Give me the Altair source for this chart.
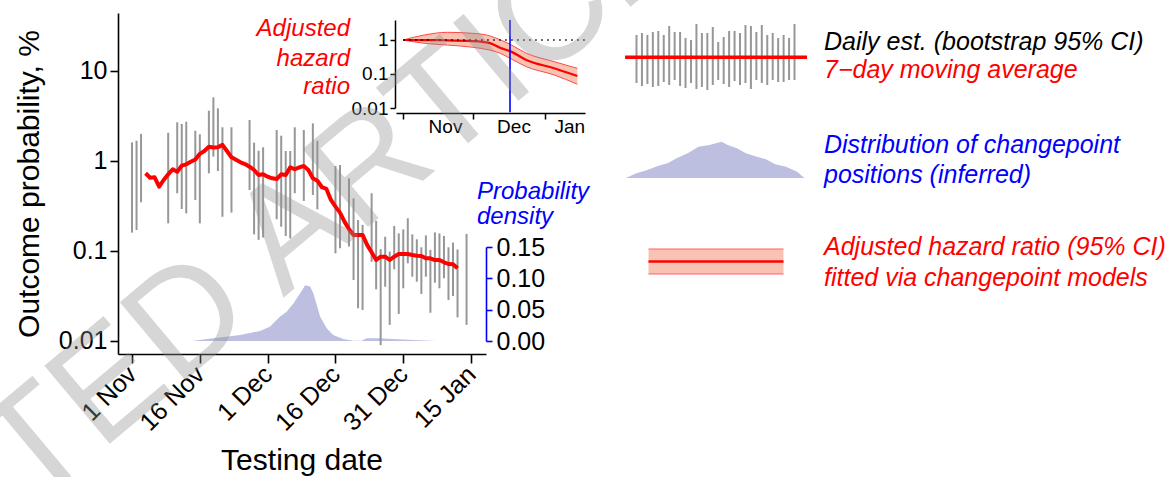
import altair as alt
import pandas as pd
from datetime import datetime, timedelta

W, H = 1169, 477
FONT = "Liberation Sans"
START = datetime(2020, 11, 1)

# ---------------- data (days counted from 1 Nov 2020) ----------------
bar_day = [0, 1, 2, 8, 10, 11, 12, 14, 15, 17,
           18, 19, 20, 22, 26, 27, 28, 29, 32, 33,
           34, 35, 36, 38, 40, 41, 45, 46, 48, 49,
           50, 51, 53, 54, 55, 56, 57, 58, 59, 60,
           61, 62, 63, 64, 65, 66, 67, 68, 69, 70,
           71, 72, 74]
bar_hi = [1.61, 1.68, 2.0, 2.06, 2.69, 2.58, 2.73, 2.17, 1.98, 3.62,
          5.10, 3.85, 2.37, 2.37, 2.85, 1.60, 1.30, 1.42, 2.21, 1.91,
          1.29, 1.29, 2.37, 2.21, 2.62, 1.68, 0.880, 0.903, 0.642, 0.385,
          0.221, 0.195, 0.438, 0.216, 0.105, 0.144, 0.0983, 0.190, 0.157, 0.174,
          0.231, 0.153, 0.135, 0.110, 0.149, 0.103, 0.161, 0.157, 0.147, 0.110,
          0.124, 0.104, 0.155]
bar_lo = [0.160, 0.171, 0.348, 0.203, 0.438, 0.293, 0.262, 0.369, 0.203, 0.730,
          1.12, 0.774, 0.240, 0.267, 0.476, 0.153, 0.133, 0.141, 0.225, 0.186,
          0.147, 0.138, 0.438, 0.360, 0.419, 0.291, 0.0943, 0.107, 0.112, 0.0476,
          0.0231, 0.0221, 0.0760, 0.0375, 0.0090, 0.0401, 0.0151, 0.0626, 0.0200, 0.0385,
          0.0730, 0.0518, 0.0456, 0.0333, 0.0518, 0.0206, 0.0445, 0.0385, 0.0498, 0.0285,
          0.0316, 0.0183, 0.0151]

ma_day = list(range(3, 73))
ma_val = [0.730, 0.652, 0.659, 0.518, 0.615, 0.711, 0.809, 0.760, 0.887, 0.919,
          0.982, 1.04, 1.20, 1.29, 1.44, 1.41, 1.42, 1.51, 1.29, 1.10,
          1.03, 0.967, 0.926, 0.865, 0.794, 0.699, 0.711, 0.669, 0.642, 0.631,
          0.711, 0.699, 0.851, 0.809, 0.851, 0.880, 0.794, 0.642, 0.604, 0.511,
          0.489, 0.369, 0.311, 0.267, 0.212, 0.174, 0.151, 0.151, 0.151, 0.117,
          0.0968, 0.0794, 0.0865, 0.0865, 0.0794, 0.0865, 0.0926, 0.0926, 0.0926, 0.0903,
          0.0887, 0.0880, 0.0830, 0.0830, 0.0794, 0.0794, 0.0749, 0.0717, 0.0712, 0.0643]

dens_day = [13.2, 18.0, 23.9, 28.3, 30.5, 32.7, 34.2, 35.7, 37.2, 38.3, 39.4, 40.1,
            40.9, 41.6, 43.1, 44.5, 46.7, 49.0, 50.8, 51.9, 54.9, 58.6, 62.2, 67.4]
dens_val = [0.0, 0.0043, 0.0096, 0.016, 0.0228, 0.0388, 0.0468, 0.060, 0.076, 0.089, 0.087, 0.076,
            0.057, 0.039, 0.020, 0.0096, 0.0032, 0.0005, 0.0005, 0.0043, 0.0043, 0.0027, 0.0016, 0.0]

hr_day = [0, 9, 19, 30, 37, 42, 46, 53, 65, 75]
hr_mid = [1.0, 0.99, 0.98, 0.93, 0.82, 0.58, 0.47, 0.26, 0.147, 0.087]
hr_hi = [1.0, 1.40, 1.68, 1.57, 1.34, 1.0, 0.75, 0.41, 0.23, 0.147]
hr_lo = [1.0, 0.80, 0.71, 0.61, 0.51, 0.40, 0.29, 0.164, 0.094, 0.050]
cp_day = 46

main_ticks = [0, 15, 30, 45, 60, 75]
inset_ticks = [0, 30, 61]
inset_month_pos = [18, 47.5, 71.5]

# legend glyph shapes
leg_bar_hi = [65, 67, 65, 68, 69, 65, 74, 68, 68, 62, 60, 76, 67, 67, 73,
              58, 63, 69, 69, 67, 75, 74, 68, 75, 65, 67, 62, 65, 62, 76]
leg_bar_lo = [17, 14, 16, 13, 14, 18, 15, 20, 14, 12, 17, 11, 13, 10, 15,
              20, 16, 13, 19, 15, 17, 11, 20, 17, 15, 20, 18, 18, 20, 20]
leg_m_x = [0.3, 6.4, 12.4, 18.6, 23.6, 28.7, 34.8, 40.8, 46.9, 53.6, 57.1, 62.2,
           67.2, 73.3, 78.3, 83.4, 89.5, 95.6, 99.7]
leg_m_h = [0, 4.7, 8, 12.3, 14.7, 19.7, 24.7, 31.3, 33, 36.3, 33, 29.7,
           24.7, 21.3, 18.7, 13.7, 11.3, 6.3, 0]


def iso(day):
    return (START + timedelta(days=day)).strftime("%Y-%m-%dT%H:%M:%SZ")


def dt(day):
    t = START + timedelta(days=day)
    return alt.DateTime(year=t.year, month=t.month, date=t.day,
                        hours=t.hour, minutes=t.minute, utc=True)


# ---------------- scales ----------------
X_MAIN = alt.Scale(type="utc", domain=[dt(-3.1), dt(78.3)], range=[118, 486], nice=False)
Y_MAIN = alt.Scale(type="log", domain=[0.00717, 44.1], range=[354, 13], nice=False)
Y_DENS = alt.Scale(domain=[0, 0.15], range=[341, 247], nice=False, zero=False)
X_INS = alt.Scale(type="utc", domain=[dt(-3.1), dt(78.3)], range=[396, 585], nice=False)
Y_INS = alt.Scale(type="log", domain=[0.01, 3.87], range=[108, 20], nice=False)


def ax(**kw):
    base = dict(grid=False, title=None, labelFont=FONT, labelColor="black",
                domainColor="black", tickColor="black", labelOverlap=False,
                labelFlush=False)
    base.update(kw)
    return alt.Axis(**base)


bars_df = pd.DataFrame({"date": [iso(d) for d in bar_day], "lo": bar_lo, "hi": bar_hi})
ma_df = pd.DataFrame({"date": [iso(d) for d in ma_day], "v": ma_val})
dens_df = pd.DataFrame({"date": [iso(d) for d in dens_day], "v": dens_val})
hr_df = pd.DataFrame({"date": [iso(d) for d in hr_day], "mid": hr_mid, "hi": hr_hi, "lo": hr_lo})
hr_long = pd.concat([
    pd.DataFrame({"date": [iso(d) for d in hr_day], "v": hr_hi, "b": "hi"}),
    pd.DataFrame({"date": [iso(d) for d in hr_day], "v": hr_lo, "b": "lo"}),
])

layers = []

# density of changepoint positions
layers.append(
    alt.Chart(dens_df).mark_area(color="#bdbfe0").encode(
        x=alt.X("date:T", scale=X_MAIN, axis=None),
        y=alt.Y("v:Q", scale=Y_DENS,
                axis=ax(orient="right", offset=486 - W, values=[0, 0.05, 0.1, 0.15],
                        format=".2f", domainColor="blue", tickColor="blue",
                        domainWidth=1.6, tickWidth=1.6, tickSize=6,
                        labelFontSize=25, labelPadding=4)),
    )
)

# daily estimates
layers.append(
    alt.Chart(bars_df).mark_rule(color="#979797", strokeWidth=2).encode(
        x=alt.X("date:T", scale=X_MAIN,
                axis=ax(orient="bottom", offset=354 - H,
                        values=[dt(d) for d in main_ticks],
                        labelExpr="utcFormat(datum.value, '%-d %b')",
                        labelAngle=315, labelAlign="right", labelBaseline="middle",
                        labelFontSize=25, labelPadding=7, tickSize=9,
                        tickWidth=1.6, domainWidth=1.6)),
        y=alt.Y("lo:Q", scale=Y_MAIN,
                axis=ax(orient="left", offset=-118, values=[0.01, 0.1, 1, 10],
                        format="~g", labelFontSize=25, labelPadding=3, tickSize=8,
                        tickWidth=1.6, domainWidth=1.6)),
        y2="hi:Q",
    )
)

# 7-day moving average
layers.append(
    alt.Chart(ma_df).mark_line(color="#ff0000", strokeWidth=4, strokeJoin="round").encode(
        x=alt.X("date:T", scale=X_MAIN, axis=None),
        y=alt.Y("v:Q", scale=Y_MAIN, axis=None),
    )
)

# inset: ribbon
layers.append(
    alt.Chart(hr_df).mark_area(color="#f8c3b2", interpolate="monotone").encode(
        x=alt.X("date:T", scale=X_INS,
                axis=ax(orient="bottom", offset=113 - H,
                        values=[dt(d) for d in inset_ticks], labels=False,
                        tickSize=6, tickWidth=1.5, domainWidth=1.5)),
        y=alt.Y("lo:Q", scale=Y_INS,
                axis=ax(orient="left", offset=-395, values=[0.01, 0.1, 1], format="~g",
                        labelFontSize=19, labelPadding=2, tickSize=5,
                        tickWidth=1.5, domainWidth=1.5)),
        y2="hi:Q",
    )
)
layers.append(
    alt.Chart(hr_long).mark_line(color="#ff4a4a", strokeWidth=1, interpolate="monotone").encode(
        x=alt.X("date:T", scale=X_INS, axis=None),
        y=alt.Y("v:Q", scale=Y_INS, axis=None),
        detail="b:N",
    )
)
layers.append(
    alt.Chart(hr_df).mark_line(color="#ff0000", strokeWidth=2.2, interpolate="monotone").encode(
        x=alt.X("date:T", scale=X_INS, axis=None),
        y=alt.Y("mid:Q", scale=Y_INS, axis=None),
    )
)
# dotted reference at HR = 1
layers.append(
    alt.Chart(pd.DataFrame({"x0": [iso(hr_day[0])], "x1": [iso(78.3)], "y": [1.0]}))
    .mark_rule(color="black", strokeWidth=1.5, strokeDash=[1.5, 4.5]).encode(
        x=alt.X("x0:T", scale=X_INS, axis=None), x2="x1:T",
        y=alt.Y("y:Q", scale=Y_INS, axis=None),
    )
)
# changepoint line + month labels
layers.append(
    alt.Chart(pd.DataFrame({"date": [iso(cp_day)], "lo": [0.0075], "hi": [3.87]}))
    .mark_rule(color="#0000ff", strokeWidth=1.6).encode(
        x=alt.X("date:T", scale=X_INS,
                axis=ax(orient="bottom", offset=113 - H,
                        values=[dt(d) for d in inset_month_pos],
                        labelExpr="utcFormat(datum.value, '%b')",
                        ticks=False, tickSize=0, domain=False,
                        labelFontSize=19, labelPadding=4)),
        y=alt.Y("lo:Q", scale=Y_INS, axis=None),
        y2="hi:Q",
    )
)

# ---------------- legend glyphs ----------------
LGX = alt.Scale(domain=[0, 29], range=[636.5, 794.5])
LGY = alt.Scale(domain=[0, 100], range=[100, 0])
layers.append(
    alt.Chart(pd.DataFrame({"i": list(range(len(leg_bar_hi))), "lo": leg_bar_lo, "hi": leg_bar_hi}))
    .mark_rule(color="#979797", strokeWidth=2).encode(
        x=alt.X("i:Q", scale=LGX, axis=None),
        y=alt.Y("lo:Q", scale=LGY, axis=None), y2="hi:Q",
    )
)
layers.append(
    alt.Chart(pd.DataFrame({"i": [-2.1, 31.3], "v": [42.7, 42.7]}))
    .mark_line(color="#ff0000", strokeWidth=3.5).encode(
        x=alt.X("i:Q", scale=LGX, axis=None),
        y=alt.Y("v:Q", scale=LGY, axis=None),
    )
)
layers.append(
    alt.Chart(pd.DataFrame({"x": leg_m_x, "h": leg_m_h}))
    .mark_area(color="#bdbfe0").encode(
        x=alt.X("x:Q", scale=alt.Scale(domain=[0, 100], range=[625, 805]), axis=None),
        y=alt.Y("h:Q", scale=alt.Scale(domain=[0, 100], range=[178, 78]), axis=None),
    )
)
RX = alt.Scale(domain=[0, 1], range=[648.5, 783.5])
RY = alt.Scale(domain=[0, 1], range=[274, 249])
layers.append(
    alt.Chart(pd.DataFrame({"x0": [0], "x1": [1], "y0": [0], "y1": [1]}))
    .mark_rect(color="#f8c3b2").encode(
        x=alt.X("x0:Q", scale=RX, axis=None), x2="x1:Q",
        y=alt.Y("y0:Q", scale=RY, axis=None), y2="y1:Q",
    )
)
layers.append(
    alt.Chart(pd.DataFrame({"x0": [0, 0], "x1": [1, 1], "y": [0, 1]}))
    .mark_rule(color="#ff6060", strokeWidth=1.2).encode(
        x=alt.X("x0:Q", scale=RX, axis=None), x2="x1:Q",
        y=alt.Y("y:Q", scale=RY, axis=None),
    )
)
layers.append(
    alt.Chart(pd.DataFrame({"x0": [0], "x1": [1], "y": [0.5]}))
    .mark_rule(color="#ff0000", strokeWidth=2.5).encode(
        x=alt.X("x0:Q", scale=RX, axis=None), x2="x1:Q",
        y=alt.Y("y:Q", scale=RY, axis=None),
    )
)


# ---------------- texts ----------------
def label(text, x, y, color="black", size=25, align="left", angle=0, italic=True,
          baseline="alphabetic"):
    return alt.Chart(pd.DataFrame({"t": [text]})).mark_text(
        font=FONT, fontSize=size, fontStyle="italic" if italic else "normal",
        color=color, align=align, baseline=baseline, angle=angle,
    ).encode(text="t:N", x=alt.value(x), y=alt.value(y))


layers += [
    label("Outcome probability, %", 39, 184, size=30, align="center", angle=270, italic=False),
    label("Testing date", 302, 470, size=30, align="center", italic=False),
    label("Adjusted", 350, 36, color="#ff0000", size=24, align="right"),
    label("hazard", 350, 66, color="#ff0000", size=24, align="right"),
    label("ratio", 350, 94, color="#ff0000", size=24, align="right"),
    label("Probability", 477, 199, color="#0000ff", size=24),
    label("density", 477, 224, color="#0000ff", size=24),
    label("Daily est. (bootstrap 95% CI)", 824, 50),
    label("7\u2212day moving average", 824, 78, color="#ff0000"),
    label("Distribution of changepoint", 824, 153, color="#0000ff"),
    label("positions (inferred)", 824, 183, color="#0000ff"),
    label("Adjusted hazard ratio (95% CI)", 824, 255, color="#ff0000"),
    label("fitted via changepoint models", 824, 286, color="#ff0000"),
]

# watermark
layers.append(
    alt.Chart(pd.DataFrame({"t": ["ACCEPTED ARTICLE"]})).mark_text(
        font=FONT, fontSize=148, color="#909090", opacity=0.36,
        angle=320, align="center", baseline="middle",
    ).encode(text="t:N", x=alt.value(172), y=alt.value(334))
)

chart = alt.layer(*layers).resolve_scale(
    x="independent", y="independent"
).properties(
    width=W, height=H, autosize=alt.AutoSizeParams(type="none"), padding=0
).configure_view(stroke=None)

chart.save("out.html", embed_options={"renderer": "svg", "actions": False})
